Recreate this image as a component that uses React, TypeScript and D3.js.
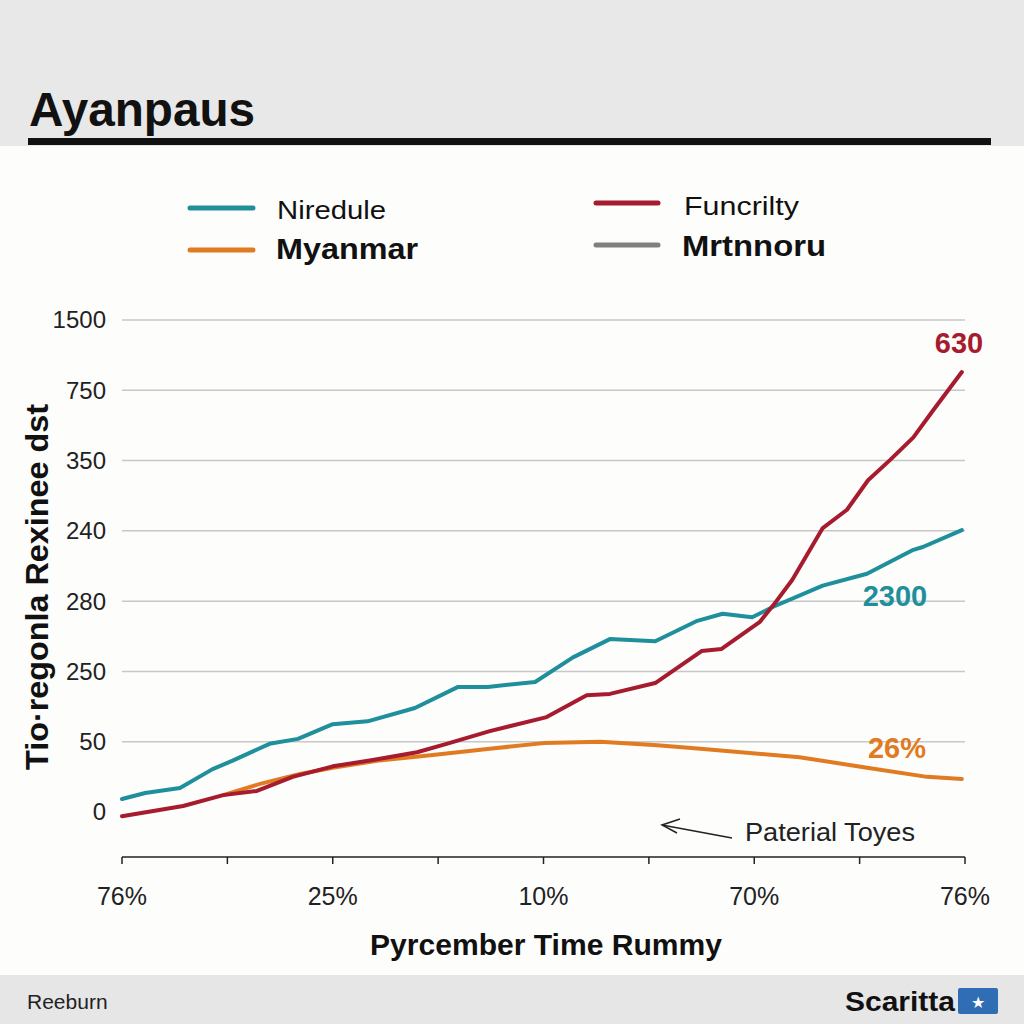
import * as React from 'react';
import * as d3 from 'd3';

const useMemo = React.useMemo;

// y tick labels, bottom to top (positions are evenly spaced bands)
const yTickLabels = ['0', '50', '250', '280', '240', '350', '750', '1500'];
// x tick labels at every other tick
const xTickLabels = ['76%', '', '25%', '', '10%', '', '70%', '', '76%'];

// series as [x, y] in tick units
const niredule: [number, number][] = [
  [0, 0.185], [0.22, 0.27], [0.55, 0.34], [0.86, 0.61], [1.05, 0.73],
  [1.4, 0.97], [1.67, 1.04], [2.0, 1.25], [2.33, 1.29], [2.78, 1.48],
  [3.19, 1.78], [3.47, 1.78], [3.92, 1.85], [4.28, 2.2], [4.63, 2.46],
  [5.06, 2.43], [5.46, 2.72], [5.7, 2.82], [5.98, 2.77], [6.18, 2.92],
  [6.65, 3.22], [7.07, 3.39], [7.51, 3.73], [7.6, 3.77], [7.97, 4.01]
];
const funcrilty: [number, number][] = [
  [0, -0.06], [0.58, 0.085], [0.96, 0.24], [1.28, 0.3], [1.62, 0.5],
  [2.0, 0.65], [2.38, 0.74], [2.8, 0.85], [3.08, 0.97], [3.49, 1.15],
  [4.03, 1.35], [4.41, 1.66], [4.63, 1.68], [5.06, 1.835], [5.5, 2.29],
  [5.69, 2.32], [6.05, 2.7], [6.18, 2.94], [6.36, 3.3], [6.65, 4.04],
  [6.88, 4.3], [7.08, 4.72], [7.29, 5.01], [7.51, 5.33], [7.7, 5.72],
  [7.97, 6.26]
];
const myanmar: [number, number][] = [
  [0.96, 0.24], [1.31, 0.4], [1.69, 0.54], [2.0, 0.63], [2.42, 0.73],
  [2.95, 0.81], [3.49, 0.9], [4.0, 0.98], [4.54, 1.0], [5.08, 0.95],
  [5.49, 0.9], [6.43, 0.78], [7.07, 0.63], [7.64, 0.5], [7.97, 0.47]
];

const TEAL = '#1f8f9b';
const RED = '#a61b2e';
const ORANGE = '#e07b22';
const GREY = '#808080';
const FONT = '"Liberation Sans", Arial, sans-serif';

export default function App() {
  const x = useMemo(() => d3.scaleLinear().domain([0, 8]).range([122, 965]), []);
  const y = useMemo(() => d3.scaleLinear().domain([0, 7]).range([812, 320]), []);
  const line = d3
    .line<[number, number]>()
    .x(d => x(d[0]))
    .y(d => y(d[1]));

  const series = [
    { data: myanmar, color: ORANGE },
    { data: niredule, color: TEAL },
    { data: funcrilty, color: RED }
  ];

  return (
    <svg
      width={1024}
      height={1024}
      style={{ position: 'absolute', left: 0, top: 0 }}
      fontFamily={FONT}
    >
      <rect x={0} y={0} width={1024} height={1024} fill="#fdfdfc" />
      {/* header */}
      <rect x={0} y={0} width={1024} height={146} fill="#e8e8e8" />
      <text x={29} y={126} fontSize={48} fontWeight="bold" fill="#111" textLength={226} lengthAdjust="spacingAndGlyphs">
        Ayanpaus
      </text>
      <rect x={28} y={138} width={963} height={7} fill="#111" />

      {/* legend */}
      <g strokeWidth={5} strokeLinecap="round">
        <line x1={190} x2={253} y1={208} y2={208} stroke={TEAL} />
        <line x1={190} x2={253} y1={250} y2={250} stroke={ORANGE} />
        <line x1={596} x2={658} y1={203} y2={203} stroke={RED} />
        <line x1={596} x2={658} y1={245} y2={245} stroke={GREY} />
      </g>
      <g fill="#111">
        <text x={277} y={219} fontSize={26} textLength={109} lengthAdjust="spacingAndGlyphs">Niredule</text>
        <text x={276} y={259} fontSize={30} fontWeight="bold" textLength={142} lengthAdjust="spacingAndGlyphs">Myanmar</text>
        <text x={684} y={215} fontSize={26} textLength={115} lengthAdjust="spacingAndGlyphs">Funcrilty</text>
        <text x={682} y={256} fontSize={30} fontWeight="bold" textLength={144} lengthAdjust="spacingAndGlyphs">Mrtnnoru</text>
      </g>

      {/* grid + y ticks */}
      {yTickLabels.map((t, i) => (
        <g key={i}>
          {i > 0 && (
            <line x1={122} x2={965} y1={y(i)} y2={y(i)} stroke="#c8c8c8" strokeWidth={1.5} />
          )}
          <text x={106} y={y(i)} dy="0.35em" textAnchor="end" fontSize={24} fill="#222">
            {t}
          </text>
        </g>
      ))}

      {/* y title */}
      <text
        transform="translate(48,587) rotate(-90)"
        textAnchor="middle"
        fontSize={32}
        fontWeight="bold"
        fill="#111"
        textLength={366}
        lengthAdjust="spacingAndGlyphs"
      >
        Tio·regonla Rexinee dst
      </text>

      {/* x axis */}
      <line x1={x(0)} x2={x(8)} y1={857} y2={857} stroke="#222" strokeWidth={1.5} />
      {xTickLabels.map((t, i) => (
        <g key={i}>
          <line x1={x(i)} x2={x(i)} y1={857} y2={864} stroke="#222" strokeWidth={1.5} />
          {t && (
            <text x={x(i)} y={905} textAnchor="middle" fontSize={25} fill="#222">
              {t}
            </text>
          )}
        </g>
      ))}
      <text x={546} y={955} textAnchor="middle" fontSize={30} fontWeight="bold" fill="#111" textLength={352} lengthAdjust="spacingAndGlyphs">
        Pyrcember Time Rummy
      </text>

      {/* lines */}
      {series.map((s, i) => (
        <path
          key={i}
          d={line(s.data) || ''}
          fill="none"
          stroke={s.color}
          strokeWidth={4}
          strokeLinejoin="round"
          strokeLinecap="round"
        />
      ))}

      {/* annotations */}
      <g fontWeight="bold" fontSize={29} textAnchor="middle">
        <text x={959} y={353} fill={RED}>630</text>
        <text x={895} y={606} fill={TEAL}>2300</text>
        <text x={897} y={758} fill={ORANGE}>26%</text>
      </g>
      <text x={745} y={841} fontSize={25} fill="#222" textLength={170} lengthAdjust="spacingAndGlyphs">Paterial Toyes</text>
      <g stroke="#222" strokeWidth={1.5} fill="none">
        <line x1={732} y1={838} x2={662} y2={825} />
        <polyline points="680,819 662,825 677,833" />
      </g>

      {/* footer */}
      <rect x={0} y={975} width={1024} height={49} fill="#e6e6e6" />
      <text x={27} y={1009} fontSize={21} fill="#222">Reeburn</text>
      <text x={845} y={1011} fontSize={28} fontWeight="bold" fill="#111" textLength={110} lengthAdjust="spacingAndGlyphs">
        Scaritta
      </text>
      <rect x={958} y={988} width={40} height={26} rx={2} fill="#2f6db5" />
      <text x={978} y={1008} textAnchor="middle" fontSize={16} fill="#fff">★</text>
    </svg>
  );
}
